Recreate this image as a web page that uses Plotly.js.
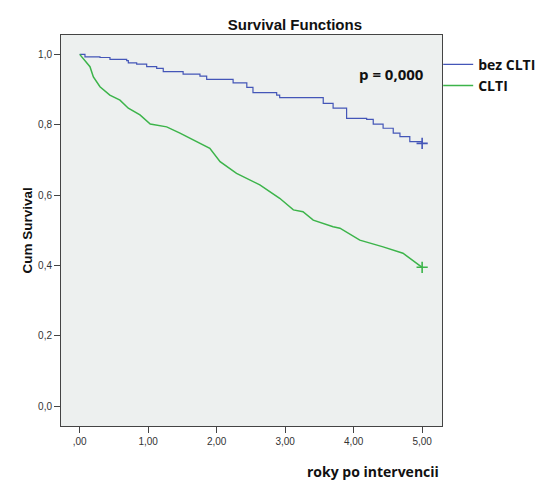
<!DOCTYPE html>
<html>
<head>
<meta charset="utf-8">
<script src="https://cdn.plot.ly/plotly-3.0.1.min.js"></script>
<style>html,body{margin:0;padding:0;background:#fff;}#chart{width:538px;height:484px;}</style>
</head>
<body>
<div id="chart"></div>
<script>
// Data
const seriesNames = ["bez CLTI", "CLTI"];
const bezYears = [0, 0.077, 0.296, 0.442, 0.686, 0.71, 0.832, 0.978, 1.124, 1.22, 1.51, 1.756, 1.854, 2.24, 2.44, 2.53, 2.876, 2.92, 3.46, 3.556, 3.70, 3.897, 4.19, 4.286, 4.43, 4.578, 4.676, 4.82, 5.0];
const bezSurv  = [1.0, 0.993, 0.991, 0.986, 0.982, 0.976, 0.972, 0.965, 0.960, 0.951, 0.944, 0.938, 0.929, 0.919, 0.906, 0.891, 0.884, 0.877, 0.877, 0.861, 0.847, 0.818, 0.815, 0.802, 0.790, 0.776, 0.766, 0.752, 0.747];
const clYears = [0, 0.15, 0.2, 0.296, 0.44, 0.588, 0.71, 0.88, 1.03, 1.27, 1.464, 1.66, 1.90, 2.05, 2.29, 2.63, 2.92, 3.12, 3.26, 3.41, 3.70, 3.80, 4.09, 4.43, 4.72, 5.0];
const clSurv  = [1.0, 0.965, 0.936, 0.908, 0.884, 0.870, 0.847, 0.828, 0.802, 0.794, 0.776, 0.757, 0.733, 0.695, 0.662, 0.629, 0.591, 0.558, 0.553, 0.529, 0.510, 0.506, 0.472, 0.453, 0.435, 0.395];
const censorYears = [5.0, 5.0];
const censorSurv = [0.747, 0.395];
const xTickVals = [0, 1, 2, 3, 4, 5];
const xTickText = [",00", "1,00", "2,00", "3,00", "4,00", "5,00"];
const yTickVals = [0, 0.2, 0.4, 0.6, 0.8, 1.0];
const yTickText = ["0,0", "0,2", "0,4", "0,6", "0,8", "1,0"];

const blue = "#4456b8", green = "#3cb44a";
const traces = [
  {x: bezYears, y: bezSurv, name: seriesNames[0], mode: "lines", line: {color: blue, width: 1.2, shape: "hv"}},
  {x: clYears, y: clSurv, name: seriesNames[1], mode: "lines", line: {color: green, width: 1.5, shape: "linear"}},
  {x: [censorYears[0]], y: [censorSurv[0]], mode: "markers", showlegend: false, marker: {symbol: "cross-thin", size: 8, line: {color: blue, width: 1.6}}},
  {x: [censorYears[1]], y: [censorSurv[1]], mode: "markers", showlegend: false, marker: {symbol: "cross-thin", size: 8, line: {color: green, width: 1.6}}}
];

const axisCommon = {showline: true, mirror: true, linecolor: "#444", linewidth: 1, ticks: "outside", ticklen: 6, tickcolor: "#444", tickwidth: 1, showgrid: false, zeroline: false, tickmode: "array", tickfont: {family: "Liberation Sans, Arial, sans-serif", size: 10, color: "#333"}};

const layout = {
  width: 538, height: 484,
  margin: {l: 61, r: 96, t: 35, b: 58, autoexpand: false},
  paper_bgcolor: "#ffffff", plot_bgcolor: "#edf0ef",
  showlegend: true,
  title: {text: "<b>Survival Functions</b>", x: 0.614, xref: "paper", xanchor: "center", y: 1, yref: "paper", yanchor: "bottom", pad: {b: 5}, font: {family: "Liberation Sans, Arial, sans-serif", size: 15, color: "#111"}},
  xaxis: Object.assign({}, axisCommon, {range: [-0.273, 5.29], tickvals: xTickVals, ticktext: xTickText}),
  yaxis: Object.assign({}, axisCommon, {range: [-0.056, 1.055], tickvals: yTickVals, ticktext: yTickText}),
  legend: {x: 0.99, xanchor: "left", y: 0.965, yanchor: "top", bgcolor: "rgba(0,0,0,0)", itemwidth: 30, tracegroupgap: 0, font: {family: "Open Sans, sans-serif", size: 14, color: "#111", weight: "bold"}},
  annotations: [
    {text: "<b>p = 0,000</b>", xref: "paper", yref: "paper", x: (391-61)/381, y: (426-74)/391, xanchor: "center", yanchor: "middle", showarrow: false, font: {family: "Open Sans, sans-serif", size: 15, color: "#111"}},
    {text: "<b>roky po intervencii</b>", xref: "paper", yref: "paper", x: (373-61)/381, y: (426-483)/391, xanchor: "center", yanchor: "bottom", showarrow: false, font: {family: "Open Sans, sans-serif", size: 14, color: "#111"}},
    {text: "<b>Cum Survival</b>", xref: "paper", yref: "paper", x: (27-61)/381, y: 0.5, xanchor: "center", yanchor: "middle", textangle: -90, showarrow: false, font: {family: "Liberation Sans, Arial, sans-serif", size: 13.5, color: "#111"}}
  ]
};

Plotly.newPlot("chart", traces, layout, {displayModeBar: false, staticPlot: true});
</script>
</body>
</html>
